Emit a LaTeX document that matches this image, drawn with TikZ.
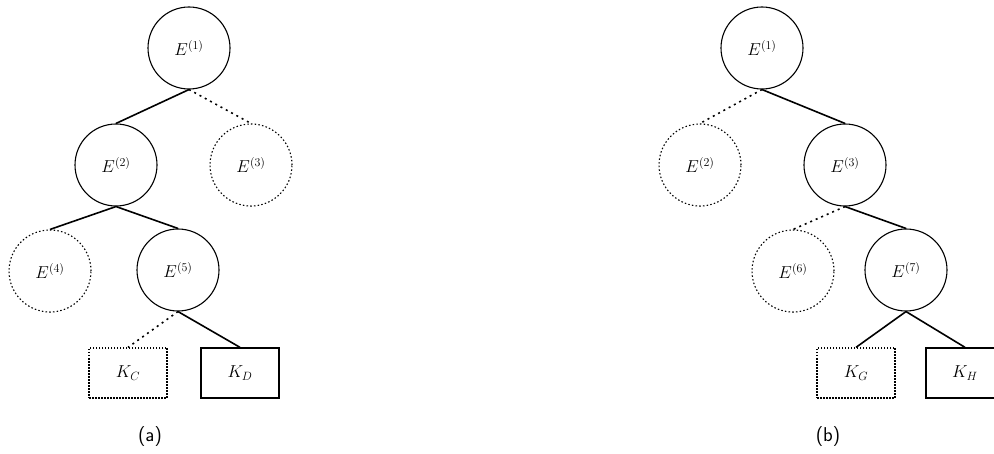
\documentclass[tikz,border=0pt]{standalone}
\usetikzlibrary{positioning}
\definecolor{cink}{RGB}{0, 0, 0}
\tikzset{
  enode/.style={circle, draw=cink, line width=1.1pt, minimum size=82pt, inner sep=0pt,
                font=\fontsize{18}{20}\selectfont},
  eoff/.style={enode, dash pattern=on 1.5pt off 2.2pt},
  kbox/.style={rectangle, draw=cink, line width=1.3pt, minimum width=78pt, minimum height=50pt,
               inner sep=0pt, font=\fontsize{18}{20}\selectfont},
  koff/.style={kbox, dash pattern=on 1.5pt off 1.5pt},
  lnk/.style={draw=cink, line width=1.6pt},
  lnkoff/.style={lnk, dash pattern=on 2pt off 4pt},
  sublab/.style={font=\sffamily\fontsize{20}{22}\selectfont},
}
\begin{document}
\begin{tikzpicture}[x=1pt, y=-1pt]
\useasboundingbox (0,0) rectangle (994,454);

% ---------- (a) ----------
\node[enode] (a1) at (189,48)  {$E^{(1)}$};
\node[enode] (a2) at (116,165) {$E^{(2)}$};
\node[eoff]  (a3) at (251,165) {$E^{(3)}$};
\node[eoff]  (a4) at (50,271)  {$E^{(4)}$};
\node[enode] (a5) at (178,270) {$E^{(5)}$};
\node[koff]  (ac) at (128,373) {$K_C$};
\node[kbox]  (ad) at (240,373) {$K_D$};
\node[sublab] (la) at (150,437) {(a)};

\draw[lnk]    (a1.south) -- (a2.north);
\draw[lnkoff] (a1.south) -- (a3.north);
\draw[lnk]    (a2.south) -- (a4.north);
\draw[lnk]    (a2.south) -- (a5.north);
\draw[lnkoff] (a5.south) -- (ac.north);
\draw[lnk]    (a5.south) -- (ad.north);

% ---------- (b) ----------
\node[enode] (b1) at (762,48)  {$E^{(1)}$};
\node[eoff]  (b2) at (700,165) {$E^{(2)}$};
\node[enode] (b3) at (845,165) {$E^{(3)}$};
\node[eoff]  (b6) at (793,271) {$E^{(6)}$};
\node[enode] (b7) at (906,270) {$E^{(7)}$};
\node[koff]  (bg) at (856,373) {$K_G$};
\node[kbox]  (bh) at (965,373) {$K_H$};
\node[sublab] (lb) at (828,437) {(b)};

\draw[lnkoff] (b1.south) -- (b2.north);
\draw[lnk]    (b1.south) -- (b3.north);
\draw[lnkoff] (b3.south) -- (b6.north);
\draw[lnk]    (b3.south) -- (b7.north);
\draw[lnk]    (b7.south) -- (bg.north);
\draw[lnk]    (b7.south) -- (bh.north);

\end{tikzpicture}
\end{document}
